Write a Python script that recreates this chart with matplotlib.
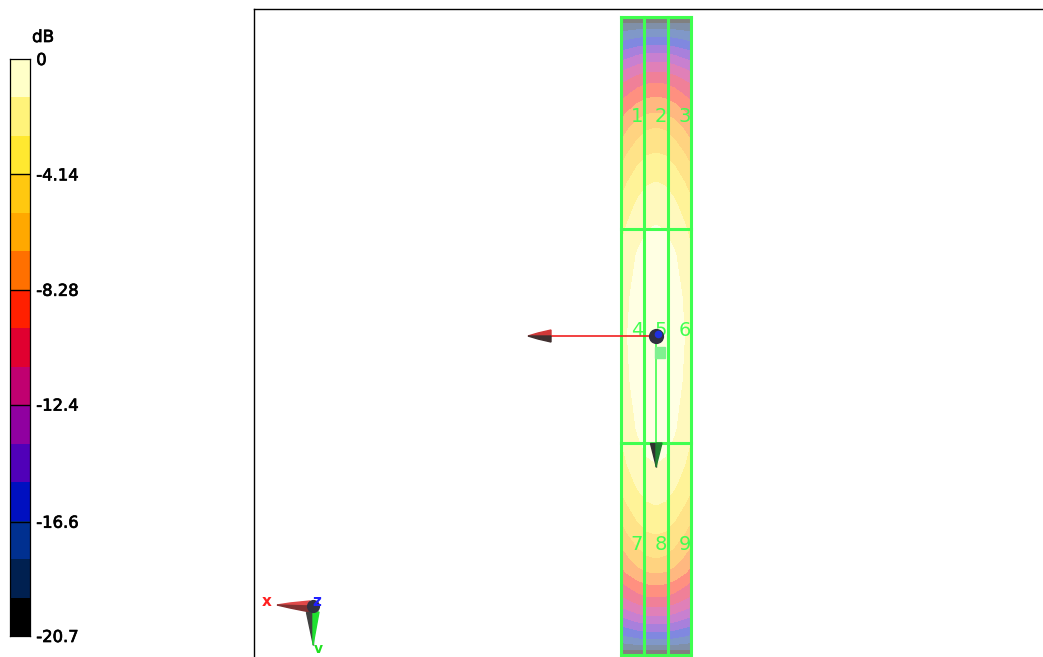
import matplotlib
matplotlib.use("Agg")
import matplotlib.pyplot as plt
import matplotlib.patheffects as pe
import numpy as np
from matplotlib.colors import ListedColormap, BoundaryNorm, to_rgb

W, H = 1043, 657

# colour scale, dB
db_levels = [-20.7, -19.32, -17.94, -16.56, -15.18, -13.8, -12.42, -11.04,
             -9.66, -8.28, -6.9, -5.52, -4.14, -2.76, -1.38, 0]
band_colors = ["#000000", "#002050", "#003090", "#0010C0", "#5000B8",
               "#9000A0", "#C00070", "#E00030", "#FF2000", "#FF7000",
               "#FFA800", "#FFC810", "#FFE830", "#FFF37A", "#FFFFC8"]
tick_values = [0, -4.14, -8.28, -12.4, -16.6, -20.7]
tick_labels = ["0", "-4.14", "-8.28", "-12.4", "-16.6", "-20.7"]

# field: distance from feed (rows, upper and lower half),
# offset from centre (cols)
row_dist_up = [0, 40, 80, 111, 130, 154, 183, 208, 223, 239, 253, 264, 274, 283,
               291, 299, 307, 313, 319]
row_dist_down = [0, 46, 92, 127, 146, 169, 198, 222, 237, 249, 261, 271, 280, 288,
                 296, 303, 309, 314, 319]
col_off = [0, 9, 18, 27, 36]
field_db = [
    [0.00, -0.14, -0.56, -1.26, -2.00],
    [-0.20, -0.34, -0.76, -1.46, -2.20],
    [-0.70, -0.83, -1.23, -1.90, -2.60],
    [-1.38, -1.51, -1.92, -2.59, -3.30],
    [-1.95, -2.08, -2.48, -3.15, -3.85],
    [-2.76, -2.90, -3.33, -4.05, -4.80],
    [-4.14, -4.28, -4.72, -5.44, -6.20],
    [-5.52, -5.68, -6.16, -6.96, -7.80],
    [-6.90, -7.03, -7.43, -8.10, -8.80],
    [-8.28, -8.41, -8.79, -9.43, -10.10],
    [-9.66, -9.77, -10.12, -10.69, -11.30],
    [-11.04, -11.14, -11.45, -11.96, -12.50],
    [-12.42, -12.52, -12.81, -13.29, -13.80],
    [-13.80, -13.88, -14.14, -14.56, -15.00],
    [-15.18, -15.25, -15.47, -15.82, -16.20],
    [-16.56, -16.61, -16.77, -17.03, -17.30],
    [-17.94, -17.97, -18.07, -18.23, -18.40],
    [-19.32, -19.33, -19.34, -19.37, -19.40],
    [-20.70, -20.70, -20.70, -20.70, -20.70],
]

# patch numbers
patch_labels = ["1", "2", "3", "4", "5", "6", "7", "8", "9"]

GREEN = "#40FF50"
cmap = ListedColormap(band_colors)
norm = BoundaryNorm(db_levels, cmap.N)
# the surface is drawn half transparent over white
washed = ListedColormap([tuple(0.5 * c + 0.5 for c in to_rgb(b)) for b in band_colors])

fig = plt.figure(figsize=(W / 100, H / 100), dpi=100, facecolor="white")
ax = fig.add_axes([0, 0, 1, 1])
ax.set_xlim(0, W)
ax.set_ylim(H, 0)
ax.axis("off")

# frame of the 3d view
ax.plot([254, 254], [H, 9], color="black", lw=1)
ax.plot([254, W], [9, 9], color="black", lw=1)

# mirror the quarter table to the whole panel
f = np.array(field_db)
f = np.hstack([f[:, :0:-1], f])
f = np.vstack([f[:0:-1], f])
xs = 656 + np.r_[-np.array(col_off[:0:-1]), col_off]
ys = 336 + np.r_[-np.array(row_dist_up[:0:-1]), row_dist_down]
ax.contourf(xs, ys, f, levels=db_levels, cmap=washed, norm=norm,
            antialiased=False, zorder=1)

# patch grid
for x in [621, 644, 668, 691]:
    ax.plot([x, x], [17, 655], color=GREEN, lw=2.2, zorder=3)
for y in [17, 229, 443, 655]:
    ax.plot([621, 691], [y, y], color=GREEN, lw=2.2, zorder=3)
for i, lab in enumerate(patch_labels):
    ax.text([637, 661, 685][i % 3], [117, 330, 544][i // 3], lab, color=GREEN,
            fontsize=14, ha="center", va="center", zorder=4)

# main beam arrow (red) and sphere
ax.plot([551, 656], [336, 336], color="#F02020", lw=1.2, zorder=5)
ax.fill([528, 538, 551, 551, 538], [336, 333, 330, 336, 336], color="#D03838", zorder=5)
ax.fill([528, 538, 551, 551, 538], [336, 336, 336, 342, 339], color="#403030", zorder=5)

# second arrow (green)
ax.plot([656, 656], [340, 465], color=GREEN, lw=1.2, zorder=5)
ax.fill([650, 656, 656], [443, 443, 467], color="#303030", zorder=5)
ax.fill([656, 662, 656], [443, 443, 467], color="#208030", zorder=5)
ax.fill([655, 665, 665, 655], [347, 347, 358, 358], color="#80F090", zorder=5)
ax.scatter([656], [336], s=120, color="#303040", zorder=6, linewidths=0)
ax.scatter([658], [334], s=30, color="#2030E0", zorder=7, linewidths=0)

# axis triad
ax.fill([277, 290, 310, 310], [605, 603, 601, 606], color="#E04848", zorder=5)
ax.fill([277, 290, 310, 310], [605, 608, 612, 606], color="#803030", zorder=5)
ax.fill([306, 313, 313], [612, 612, 645], color="#404040", zorder=5)
ax.fill([313, 319, 313], [612, 612, 645], color="#20E030", zorder=5)
ax.scatter([313], [606], s=90, color="#303040", zorder=6, linewidths=0)
ax.text(267, 602, "x", color="#FF2020", fontsize=11, ha="center", va="center",
        fontweight="bold", zorder=7)
ax.text(317, 602, "z", color="#2020FF", fontsize=11, ha="center", va="center",
        fontweight="bold", zorder=7)
ax.text(318, 649, "v", color="#20E020", fontsize=10, ha="center", va="center",
        fontweight="bold", zorder=7)

# colour bar
thick = [pe.withStroke(linewidth=0.5, foreground="black")]
cax = fig.add_axes([10 / W, 1 - 636 / H, 20 / W, 577 / H])
cax.pcolormesh([0, 1], db_levels, np.array(db_levels[:-1]).reshape(-1, 1) + 0.01,
               cmap=cmap, norm=norm)
cax.hlines(tick_values[1:-1], 0, 1, color="black", lw=1)
cax.set_xticks([])
cax.yaxis.tick_right()
cax.set_yticks(tick_values)
cax.set_yticklabels(tick_labels, fontsize=11.8, path_effects=thick)
cax.tick_params(axis="y", length=0, pad=4.5)
cax.set_ylim(-20.7, 0)
for s in cax.spines.values():
    s.set_linewidth(0.9)
ax.text(43, 37, "dB", fontsize=12, ha="center", va="center", path_effects=thick)

fig.savefig("out.png", dpi=100)
